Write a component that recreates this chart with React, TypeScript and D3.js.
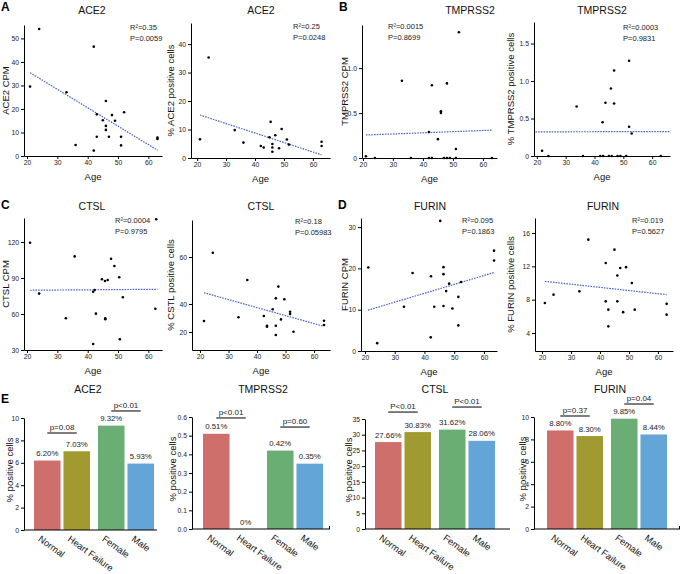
import React, { useRef, useEffect } from "react";
import * as d3 from "d3";

const FONT = "'Liberation Sans', Arial, Helvetica, sans-serif";

// ---------- Scatter data (age, value) ----------
const ACE2_CPM_AGE = [24, 21, 33, 42, 46, 43, 48, 52, 45, 49, 46, 46, 43, 47, 51, 63, 63, 36, 42, 51];
const ACE2_CPM_VAL = [54, 29.5, 27.1, 46.5, 23.4, 17.7, 17.4, 18.6, 15.2, 15, 12.8, 11.1, 8.2, 8.2, 8.2, 7.8, 7.2, 4.7, 2.3, 4.5];
const ACE2_CPM_TREND = [[21, 35.4], [63, 2.5]];
const ACE2_CPM_STATS = ["R²=0.35", "P=0.0059"];

const ACE2_PCT_AGE = [24, 21, 33, 45.4, 49.2, 47, 45, 51, 36, 42, 43, 46, 46, 46, 48.3, 51.7, 63, 63];
const ACE2_PCT_VAL = [35.3, 6.6, 9.8, 12.7, 10.2, 8, 7.3, 6.5, 5.4, 4.2, 3.7, 4.9, 3.7, 2.2, 3.4, 4.7, 5.7, 4.2];
const ACE2_PCT_TREND = [[21, 15.1], [63, 1.1]];
const ACE2_PCT_STATS = ["R²=0.25", "P=0.0248"];

const TMP_CPM_AGE = [52, 33, 43, 48, 46, 46, 42, 45, 51, 21, 24, 36, 42, 43, 47, 48, 49, 51, 63];
const TMP_CPM_VAL = [1.4, 0.86, 0.81, 0.83, 0.52, 0.5, 0.29, 0.21, 0.1, 0.02, 0, 0, 0, 0, 0, 0, 0, 0, 0];
const TMP_CPM_TREND = [[21, 0.256], [63, 0.31]];
const TMP_CPM_STATS = ["R²=0.0015", "P=0.8699"];

const TMP_PCT_AGE = [52, 46.8, 45.7, 33.8, 43.8, 46.8, 42.8, 52, 52.9, 21.8, 24, 36, 42, 43, 45, 46, 48, 49, 51, 63];
const TMP_PCT_VAL = [1.27, 1.14, 0.9, 0.66, 0.71, 0.7, 0.45, 0.39, 0.3, 0.07, 0, 0, 0, 0, 0, 0, 0, 0, 0, 0];
const TMP_PCT_TREND = [[19.5, 0.322], [66, 0.326]];
const TMP_PCT_STATS = ["R²=0.0003", "P=0.9831"];

const CTSL_CPM_AGE = [21, 35.7, 47.7, 48.8, 50.4, 44.7, 45.7, 46.6, 62.6, 24, 41.8, 42.3, 51.6, 32.8, 42.7, 45.8, 45.8, 62.3, 41.8, 50.6];
const CTSL_CPM_VAL = [119.4, 108, 106, 100, 90.6, 89, 87.5, 88.3, 139, 77, 78.6, 80, 74, 56.4, 60.3, 56.4, 55.6, 64.4, 35, 39];
const CTSL_CPM_TREND = [[21, 79.8], [63, 80.6]];
const CTSL_CPM_STATS = ["R²=0.0004", "P=0.9795"];

const CTSL_PCT_AGE = [24.5, 36.6, 47.5, 21.4, 33.5, 42.4, 43.5, 43.5, 45.5, 46.6, 46.6, 46.6, 48.4, 49.6, 51.6, 51.6, 52.8, 63.5, 63.5];
const CTSL_PCT_VAL = [61.8, 50.2, 47.4, 27.9, 30.5, 31.4, 24.5, 23.8, 36.2, 42.4, 24.5, 17.9, 29, 42, 34.5, 32.9, 20.2, 28, 25];
const CTSL_PCT_TREND = [[21.4, 44.8], [63, 24.3]];
const CTSL_PCT_STATS = ["R²=0.18", "P=0.05983"];

const FUR_CPM_AGE = [45.3, 21.1, 36, 42.2, 46.4, 46.4, 63.4, 63.4, 48.3, 52.3, 24.1, 33.1, 42.1, 43.3, 46.4, 47.3, 49.4, 51.4, 51.4];
const FUR_CPM_VAL = [31.5, 20.2, 18.9, 18.1, 20.3, 18.6, 24.3, 21.9, 16.3, 16.7, 1.9, 10.7, 3.3, 10.7, 10.9, 14.5, 10.3, 13.1, 6.2];
const FUR_CPM_TREND = [[21, 9.9], [63.4, 19]];
const FUR_CPM_STATS = ["R²=0.095", "P=0.1863"];

const FUR_PCT_AGE = [36, 45, 42, 47, 49, 46, 51, 21, 24, 32.9, 42, 42.9, 42.9, 46, 48, 52, 63, 63];
const FUR_PCT_VAL = [15.2, 14, 12.4, 11.8, 11.9, 10.9, 10, 7.6, 8.6, 9, 7.8, 6.8, 4.8, 7.8, 6.5, 6.8, 7.5, 6.2];
const FUR_PCT_TREND = [[21, 10.2], [63, 8.6]];
const FUR_PCT_STATS = ["R²=0.019", "P=0.5627"];

const AGE_TICKS = [20, 30, 40, 50, 60];

// ---------- Bar data ----------
const CATS = ["Normal", "Heart Failure", "Female", "Male"];
const COLORS = ["#CF6F6C", "#A09A30", "#6BAE73", "#64A5D8"];
const BAR_ACE2 = [6.2, 7.03, 9.32, 5.93];
const BAR_TMP = [0.51, 0, 0.42, 0.35];
const BAR_CTSL = [27.66, 30.83, 31.62, 28.06];
const BAR_FUR = [8.8, 8.3, 9.85, 8.44];
const P_ACE2 = ["p=0.08", "p<0.01"];
const P_TMP = ["p<0.01", "p=0.60"];
const P_CTSL = ["P<0.01", "P<0.01"];
const P_FUR = ["p=0.37", "p=0.04"];
const PAIRS = [[0, 1], [2, 3]];

function AxisG({ axis, transform, fs = 6.8 }: any) {
  const ref = useRef<SVGGElement>(null);
  useEffect(() => {
    const g = d3.select(ref.current as SVGGElement);
    g.selectAll("*").remove();
    g.call(axis);
    g.attr("font-family", FONT);
    g.selectAll("text").attr("font-size", fs).attr("font-family", FONT).attr("fill", "#222");
    g.select(".domain").attr("stroke", "#000").attr("stroke-width", 1);
    g.selectAll(".tick line").attr("stroke", "#000");
  });
  return <g ref={ref} transform={transform} />;
}

const SCATTERS = [
  { ages: ACE2_CPM_AGE, vals: ACE2_CPM_VAL, trend: ACE2_CPM_TREND, stats: ACE2_CPM_STATS, title: "ACE2", yLabel: "ACE2 CPM", yTicks: [0, 10, 20, 30, 40, 50], xPx: [24, 162], xDom: [19, 64.5], yPx: [156, 25], yDom: [0, 55.7], titleX: 92, titleY: 13.5, yLabelX: 8.5, statX: 130, statY: 30 },
  { ages: ACE2_PCT_AGE, vals: ACE2_PCT_VAL, trend: ACE2_PCT_TREND, stats: ACE2_PCT_STATS, title: "ACE2", yLabel: "% ACE2 positive cells", yTicks: [0, 10, 20, 30, 40], xPx: [191, 330], xDom: [17.9, 65.9], yPx: [158, 23], yDom: [0, 47.4], titleX: 261, titleY: 13.5, yLabelX: 173.5, statX: 293, statY: 29 },
  { ages: TMP_CPM_AGE, vals: TMP_CPM_VAL, trend: TMP_CPM_TREND, stats: TMP_CPM_STATS, title: "TMPRSS2", yLabel: "TMPRSS2 CPM", yTicks: [0, 0.5, 1.0], fmt: (d: number) => (d === 0 ? "0" : d.toFixed(1)), xPx: [362, 497], xDom: [19.7, 64.7], yPx: [158, 25], yDom: [0, 1.48], titleX: 470, titleY: 13.5, yLabelX: 347.5, statX: 388, statY: 29 },
  { ages: TMP_PCT_AGE, vals: TMP_PCT_VAL, trend: TMP_PCT_TREND, stats: TMP_PCT_STATS, title: "TMPRSS2", yLabel: "% TMPRSS2 positive cells", yTicks: [0, 0.5, 1.0, 1.5], fmt: (d: number) => (d === 0 ? "0" : d.toFixed(1)), xPx: [534, 670], xDom: [19, 66.2], yPx: [156, 22], yDom: [0, 1.787], titleX: 602, titleY: 13.5, yLabelX: 513.5, statX: 623, statY: 30 },
  { ages: CTSL_CPM_AGE, vals: CTSL_CPM_VAL, trend: CTSL_CPM_TREND, stats: CTSL_CPM_STATS, title: "CTSL", yLabel: "CTSL CPM", yTicks: [30, 60, 90, 120], xPx: [24, 162], xDom: [19, 64.5], yPx: [350, 218], yDom: [30, 140], titleX: 92, titleY: 210, yLabelX: 8.5, statX: 115, statY: 223 },
  { ages: CTSL_PCT_AGE, vals: CTSL_PCT_VAL, trend: CTSL_PCT_TREND, stats: CTSL_PCT_STATS, title: "CTSL", yLabel: "% CSTL positive cells", yTicks: [20, 40, 60], xPx: [192, 330], xDom: [17.2, 65.6], yPx: [350, 332, 304, 257, 220], yDom: [7.1, 20, 40, 60, 75.7], titleX: 261, titleY: 210, yLabelX: 173.5, statX: 295, statY: 224 },
  { ages: FUR_CPM_AGE, vals: FUR_CPM_VAL, trend: FUR_CPM_TREND, stats: FUR_CPM_STATS, title: "FURIN", yLabel: "FURIN CPM", yTicks: [0, 10, 20, 30], xPx: [361, 497], xDom: [18.65, 64.4], yPx: [351, 218], yDom: [0, 32.2], titleX: 430, titleY: 210, yLabelX: 347.5, statX: 462, statY: 223 },
  { ages: FUR_PCT_AGE, vals: FUR_PCT_VAL, trend: FUR_PCT_TREND, stats: FUR_PCT_STATS, title: "FURIN", yLabel: "% FURIN positive cells", yTicks: [4, 8, 12, 16], xPx: [535, 673], xDom: [17.6, 65.2], yPx: [351, 218], yDom: [1.84, 17.8], titleX: 603, titleY: 210, yLabelX: 513.5, statX: 632, statY: 223 },
];

const BARS = [
  { title: "ACE2", vals: BAR_ACE2, pv: P_ACE2, lv: [8.66, 10.63], ticks: [0, 2, 4, 6, 8, 10], fmt: (d: number) => String(d), axisX: 24, axisEnd: 157, endTick: false, yPx: [530, 418], yDom: [0, 10], barStart: 10, titleX: 88, yLabelX: 12.5 },
  { title: "TMPRSS2", vals: BAR_TMP, pv: P_TMP, lv: [0.595, 0.546], ticks: [0, 0.1, 0.2, 0.3, 0.4, 0.5, 0.6], fmt: (d: number) => d.toFixed(1), axisX: 192, axisEnd: 330, endTick: true, yPx: [529, 417], yDom: [0, 0.6], barStart: 11, titleX: 263, yLabelX: 175.5 },
  { title: "CTSL", vals: BAR_CTSL, pv: P_CTSL, lv: [37.2, 38.8], ticks: [0, 5, 10, 15, 20, 25, 30, 35], fmt: (d: number) => String(d), axisX: 365, axisEnd: 510, endTick: false, yPx: [529, 419], yDom: [0, 35], barStart: 10, titleX: 435, yLabelX: 351.5 },
  { title: "FURIN", vals: BAR_FUR, pv: P_FUR, lv: [10.09, 11.16], ticks: [0, 2, 4, 6, 8, 10], fmt: (d: number) => String(d), axisX: 534, axisEnd: 680, endTick: true, yPx: [529, 417], yDom: [0, 10], barStart: 13, titleX: 610, yLabelX: 525.5 },
];

function Scatter({ c }: any) {
  const x = d3.scaleLinear().domain(c.xDom).range(c.xPx);
  const y = d3.scaleLinear().domain(c.yDom).range(c.yPx);
  const yBottom = c.yPx[0];
  const yTop = c.yPx[c.yPx.length - 1];
  const line = d3.line<number[]>().x((d) => x(d[0])).y((d) => y(d[1]));
  const xAxis = d3.axisBottom(x).tickValues(AGE_TICKS).tickSize(3).tickSizeOuter(0).tickPadding(1.5).tickFormat((d: any) => String(d));
  const yAxis = d3.axisLeft(y).tickValues(c.yTicks).tickSize(3).tickSizeOuter(0).tickPadding(2).tickFormat((d: any) => (c.fmt ? c.fmt(d) : String(d)));
  const midY = (yBottom + yTop) / 2;
  const midX = (c.xPx[0] + c.xPx[1]) / 2;
  return (
    <g>
      <text x={c.titleX} y={c.titleY} textAnchor="middle" fontSize={10.5} fill="#111">{c.title}</text>
      <AxisG axis={xAxis} transform={`translate(0,${yBottom})`} />
      <AxisG axis={yAxis} transform={`translate(${c.xPx[0]},0)`} />
      <text x={midX} y={yBottom + 24} textAnchor="middle" fontSize={9.5} fill="#111">Age</text>
      <text transform={`translate(${c.yLabelX},${midY}) rotate(-90)`} textAnchor="middle" fontSize={9.5} fill="#111">{c.yLabel}</text>
      <path d={line(c.trend) || ""} fill="none" stroke="#4A63C8" strokeWidth={1.2} strokeDasharray="1.6,1.1" />
      {c.ages.map((a: number, i: number) => (
        <circle key={i} cx={x(a)} cy={y(c.vals[i])} r={1.3} fill="#000" />
      ))}
      <text x={c.statX} y={c.statY} fontSize={7.5} fill="#222">{c.stats[0]}</text>
      <text x={c.statX} y={c.statY + 10.5} fontSize={7.5} fill="#222">{c.stats[1]}</text>
    </g>
  );
}

function Bars({ c }: any) {
  const y = d3.scaleLinear().domain(c.yDom).range(c.yPx);
  const band = d3.scaleBand<string>().domain(CATS).range([c.axisX + c.barStart, c.axisX + c.barStart + 115]).paddingInner(0.1);
  const gap = 5;
  const bx = (i: number) => (band(CATS[i]) as number) + (i >= 2 ? gap : 0);
  const bw = band.bandwidth();
  const yAxis = d3.axisLeft(y).tickValues(c.ticks).tickSize(3).tickSizeOuter(0).tickPadding(2).tickFormat((d: any) => c.fmt(d));
  const base = c.yPx[0];
  return (
    <g>
      <text x={c.titleX} y={393} textAnchor="middle" fontSize={10.5} fill="#111">{c.title}</text>
      {c.vals.map((v: number, i: number) => (
        <g key={i}>
          <rect x={bx(i)} y={y(v)} width={bw} height={Math.max(0, base - y(v))} fill={COLORS[i]} />
          <text x={bx(i) + bw / 2} y={y(v) - 4.5} textAnchor="middle" fontSize={7.8} fill="#222">{v === 0 ? "0%" : v.toFixed(2) + "%"}</text>
          <text transform={`translate(${bx(i) + bw / 2 - 6},${base + 5}) rotate(36)`} fontSize={9.3} fill="#111" dominantBaseline="hanging">{CATS[i]}</text>
        </g>
      ))}
      {PAIRS.map((p, k) => {
        const x1 = bx(p[0]) + bw / 2;
        const x2 = bx(p[1]) + bw / 2;
        const ly = y(c.lv[k]);
        return (
          <g key={k}>
            <line x1={x1} x2={x2} y1={ly} y2={ly} stroke="#707070" strokeWidth={1.8} />
            <text x={(x1 + x2) / 2} y={ly - 3} textAnchor="middle" fontSize={8} fill="#222">{c.pv[k]}</text>
          </g>
        );
      })}
      <line x1={c.axisX} x2={c.axisEnd} y1={base} y2={base} stroke="#000" strokeWidth={1} />
      {c.endTick && <line x1={c.axisEnd - 0.5} x2={c.axisEnd - 0.5} y1={base - 3} y2={base} stroke="#000" strokeWidth={1} />}
      <AxisG axis={yAxis} transform={`translate(${c.axisX},0)`} />
      <text transform={`translate(${c.yLabelX},${(c.yPx[0] + c.yPx[1]) / 2 - 4}) rotate(-90)`} textAnchor="middle" fontSize={9.5} fill="#111">% positive cells</text>
    </g>
  );
}

export default function App() {
  return (
    <svg width={682} height={574} style={{ position: "absolute", left: 0, top: 0, background: "#fff" }} fontFamily={FONT}>
      <rect width={682} height={574} fill="#fff" />
      {SCATTERS.map((c, i) => <Scatter key={i} c={c} />)}
      {BARS.map((c, i) => <Bars key={i} c={c} />)}
      <text x={1} y={11} fontSize={12} fontWeight="bold">A</text>
      <text x={339} y={11} fontSize={12} fontWeight="bold">B</text>
      <text x={1} y={209} fontSize={12} fontWeight="bold">C</text>
      <text x={338} y={209} fontSize={12} fontWeight="bold">D</text>
      <text x={1} y={403} fontSize={12} fontWeight="bold">E</text>
    </svg>
  );
}
